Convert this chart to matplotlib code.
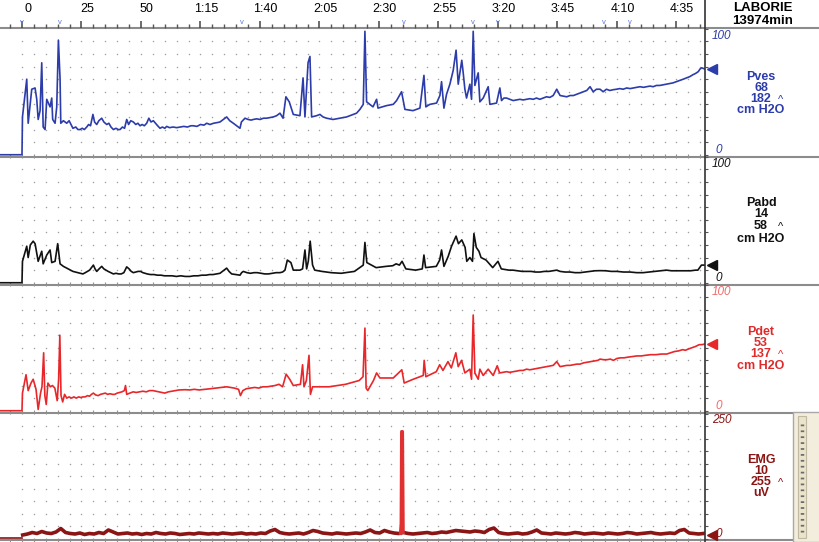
import numpy as np
import matplotlib
matplotlib.use("Agg")
import matplotlib.pyplot as plt
from matplotlib.lines import Line2D
from matplotlib.patches import Rectangle
from matplotlib.ticker import MultipleLocator
import matplotlib.transforms as mtransforms

plt.rcParams['font.family'] = ['Liberation Sans', 'DejaVu Sans']

# ---- data (time in s, values in cm H2O / uV) ----
tick_pos = [0, 25, 50, 75, 100, 125, 150, 175, 200, 225, 250, 275]
tick_labels = ["0", "25", "50", "1:15", "1:40", "2:05", "2:30", "2:55", "3:20", "3:45", "4:10", "4:35"]
event_t = [0, 16, 92.4, 160.5, 189.5, 200, 244.5, 255.5]

pves_t = [-9.5, 0, 0.2, 2.0, 2.6, 4.1, 5.5, 6.2, 6.8, 7.6, 8.3, 8.9, 9.7, 10.4, 11.8, 12.5, 12.9,
          13.9, 14.6, 15.3, 16.0, 16.3,
          17.4, 18.8, 19.8, 20.6, 21.4, 22.6, 23.5, 24.4, 25.3, 26.2, 27.2, 28.0, 28.8, 29.8, 30.5,
          31.4, 32.3, 33.5, 34.4, 35.6, 36.5, 37.4, 38.4, 39.5, 40.4, 41.2, 42.2, 43.1, 44.0, 44.8,
          45.7, 46.8, 47.8, 48.7, 49.6, 50.5, 51.4, 52.4, 53.3, 54.2, 55.2, 56.1, 57.0, 58.0, 59.0,
          60.0, 60.8, 62.0, 63.5, 65.0, 66.4, 68.0, 69.5, 71.0, 72.0, 73.5, 75.0, 76.5, 77.6, 79.0,
          80.5, 82.0, 83.2, 84.6, 86.0, 87.3, 88.8, 90.2, 91.6, 92.2, 93.7, 95.0, 96.3, 97.2, 98.6,
          100.0, 101.5, 102.8, 104.2, 105.6, 107.0, 108.4,
          109.7, 110.9, 112.3, 114.0, 116.8, 118.1, 118.9, 120.2, 121.0, 121.7, 123.8,
          125.2, 126.5, 128.0, 129.4, 130.7, 132.1, 133.5, 135.0, 136.4, 137.8, 139.2, 140.6, 142.0,
          143.4, 144.1, 144.8, 147.5, 149.0, 149.6, 153.2, 156.0, 157.4, 159.5, 160.9, 164.3, 167.2,
          168.9, 169.7, 171.4, 174.2, 175.6, 176.3, 177.3, 178.4, 179.8, 181.2, 182.4, 183.3, 184.8,
          185.4, 186.1, 186.8, 188.2, 188.9, 189.6, 190.3, 191.7, 192.4, 193.8, 195.9, 196.6, 199.4,
          200.8, 201.5, 202.5, 203.6, 205.0, 206.4, 207.8, 209.2, 210.6, 212.0, 213.4, 214.8, 216.2,
          217.6, 219.0, 220.4, 221.8, 223.2, 224.7, 226.1, 227.5, 228.9, 230.3, 231.7, 233.1, 234.5,
          235.9, 237.3, 238.7, 240.0, 241.4, 242.9, 244.2, 245.6, 247.0, 248.4, 249.8, 251.2, 252.6,
          254.1, 255.5, 256.9, 258.3, 259.7, 261.1, 262.5, 263.9, 265.2, 266.6, 268.0, 269.4, 270.9,
          272.2, 273.5, 275.0, 276.5, 277.9, 279.3, 280.6, 281.9, 283.0, 284.2, 284.9, 285.6, 286.3,
          287.0]
pves_v = [0, 0, 30, 60, 25, 52, 53, 44, 28, 35, 73, 22, 20, 44, 38, 45, 28,
          25, 38, 91, 60, 25,
          27, 25, 27, 24, 21, 22, 20, 20, 21, 20, 22, 24, 23, 32, 26,
          24, 27, 29, 26, 24, 25, 22, 20, 21, 20, 20, 22, 21, 28, 24,
          27, 26, 24, 25, 23, 24, 23, 25, 29, 26, 27, 25, 23, 21, 22,
          21, 22.5, 21.5, 22, 21.5, 22, 22.5, 22, 23, 23, 22.5, 24, 23.5, 25, 24,
          25, 25.5, 26, 28, 30, 27, 25, 23, 21, 26, 29, 28, 27.5, 28, 28.5,
          28, 29, 29, 29.5, 30, 31, 33,
          29, 46, 42, 32, 31, 61, 30, 73, 78, 30, 31,
          32, 30, 29, 28.5, 28, 28.5, 29, 29.5, 30, 31, 32, 33, 36,
          40, 98, 42, 38, 44, 37, 39, 40, 43, 50, 36, 35, 37,
          63, 38, 40, 41, 47, 58, 37, 48, 56, 67, 83, 56, 75,
          65, 52, 45, 56, 44, 98, 55, 65, 42, 45, 54, 40, 41,
          53, 43, 45, 45, 44, 43, 43.5, 44, 43.5, 44, 44.5, 44, 45,
          44, 45, 46, 45.5, 47, 52, 47, 46.5, 46, 47, 47, 48, 49,
          50, 51, 54, 50, 52, 52, 50, 52, 51, 51.6, 52, 52.5, 52,
          53, 52.5, 53, 53.5, 54, 53.5, 54, 54.5, 54, 55, 55, 55.5, 56,
          56.5, 57, 58, 59, 60, 61, 62, 63.5, 64.5, 66, 68, 69, 68.5,
          68]

pabd_t = [-9.5, 0, 0.2, 2.0, 2.6, 3.5, 4.7, 5.5, 6.8, 8.3, 8.9, 10.4, 11.8, 12.5, 13.9, 15.0, 16.0,
          17.4, 18.4, 19.4, 20.4, 21.4, 22.4, 23.5, 24.5, 25.6, 26.6, 27.5, 28.4, 29.2, 30.0, 30.7,
          31.4, 32.4, 33.5, 34.4, 35.3, 36.2, 37.3, 38.4, 39.5, 40.6, 41.7, 42.8, 44.0, 45.0, 45.9,
          46.8, 47.8, 48.8, 49.8, 50.8, 51.7, 52.6, 54.0, 55.5, 56.9, 58.4, 59.9, 61.5, 63.0, 64.9,
          66.7, 68.6, 70.5, 72.2, 73.9, 75.6, 77.3, 78.8, 80.3, 81.8, 83.2, 84.6, 86.0, 87.0, 88.1,
          89.8, 91.6, 92.3, 93.0, 94.5, 96.0, 97.5, 98.9, 100.5, 102.0, 103.6, 105.2, 106.8, 108.4,
          109.5, 110.5, 111.5, 113.0, 114.0, 116.8, 117.9, 118.9, 119.6, 120.3, 121.1, 122.1, 123.0,
          126.0, 129.9, 134.1, 139.7, 143.4, 144.1, 144.9, 148.8, 153.0, 155.8, 157.2, 158.6, 159.7,
          161.3, 165.4, 168.2, 168.9, 169.6, 174.1, 175.5, 176.3, 177.3, 179.1, 180.5, 182.4, 183.4,
          184.8, 186.2, 186.9, 188.2, 189.3, 189.9, 190.9, 192.0, 192.9, 195.0, 197.8, 200.0,
          201.4, 203.0, 204.6, 206.3, 208.2, 210.1, 212.0, 213.9, 215.7, 217.6, 219.5, 221.4, 223.2,
          224.7, 226.1, 228.2, 230.3, 232.4, 234.5, 236.6, 238.7, 240.8, 243.0, 245.3, 247.6, 250.0,
          252.8, 255.5, 258.3, 261.0, 263.5, 266.0, 268.4, 270.8, 272.9, 275.0, 277.0, 279.0, 281.0,
          283.0, 284.0, 285.5, 287.0]
pabd_v = [0, 0, 17, 29, 20, 30, 33, 31, 17, 25, 15, 22, 26, 16, 17, 31, 15,
          13, 12, 11, 10, 9, 8.5, 8, 7.5, 7, 8, 9, 10, 12, 14, 11,
          9, 11, 13, 11, 10, 9, 8, 7, 7.5, 7, 7, 8, 12.6, 11, 9,
          8, 8.5, 9, 9, 8, 7.5, 7, 6.5, 6.5, 6, 6, 5.5, 5.5, 5.5, 5,
          5.5, 5, 5, 5.5, 5.5, 6, 6, 6.5, 6.5, 7, 7.5, 9.5, 11.6, 9, 7,
          6.5, 6, 8, 9, 8, 7.5, 8, 8, 7.5, 7, 7, 7.5, 8, 8,
          8.5, 10, 18, 16, 10, 10, 11, 26, 11, 17, 33, 14, 10,
          9, 8, 7.5, 9, 14, 32, 16, 12, 13, 13.5, 15, 14, 17,
          11, 10, 11, 22, 12, 13, 18, 26, 13, 21, 29, 37, 31,
          34, 28, 17, 20, 17, 39, 28, 25, 20, 18, 12, 17,
          11, 10.5, 10, 10, 9.5, 9, 9, 9, 8.5, 8.5, 9, 9, 9.5,
          10, 9, 8.5, 8.5, 8, 8, 8.5, 9, 9.5, 9.6, 9.5, 9, 9,
          8.5, 8.5, 8, 8, 8.5, 9, 9.5, 10, 9.5, 9.5, 9.5, 9.5, 9.5,
          10, 10, 14, 14]

pdet_t = [-9.5, 0, 0.2, 1.7, 2.6, 3.8, 4.7, 5.9, 6.8, 7.8, 8.4, 9.1, 9.6, 10.2, 10.9, 11.9, 12.8,
          13.8, 14.8, 15.4, 15.9, 16.4,
          17.1, 17.9, 18.8, 19.8, 20.8, 21.8, 22.8, 23.8, 24.7, 25.6, 26.6, 27.5, 28.4, 29.2, 30.0,
          31.0, 32.0, 33.0, 34.0, 35.0, 36.0, 37.0, 38.0, 39.0, 40.0, 41.0, 42.0, 43.0, 43.5, 44.0,
          45.3, 46.7, 48.0, 49.4, 50.8, 52.2, 53.6, 55.0, 56.2, 57.5, 58.8, 60.0, 61.5, 63.0, 64.5,
          66.0, 68.6, 70.5, 72.4, 74.5, 77.0, 79.3, 81.5, 83.8, 86.0, 87.5, 89.2, 91.0, 91.8, 92.8,
          94.3, 96.0, 97.8, 99.5, 101.2, 103.0, 104.7, 106.3, 108.0, 109.5,
          111.0, 112.5, 114.0, 117.0, 117.9, 118.5, 119.5, 120.6, 121.2, 122.1, 125.0, 129.0, 136.0,
          141.7, 143.3, 144.1, 144.6, 145.3, 147.7, 149.0, 150.4, 156.0, 159.6, 160.6, 164.4, 168.6,
          169.0, 169.7, 174.1, 175.5, 176.9, 179.0, 180.4, 182.3, 183.3, 184.7, 186.1, 188.2, 188.9,
          189.6, 190.3, 191.7, 192.4, 193.8, 195.9, 198.0, 199.7,
          200.7, 202.2, 203.6, 205.0, 206.5, 207.9, 209.2, 210.6, 212.0, 213.4, 214.8, 216.2, 217.6,
          219.0, 220.4, 221.8, 223.2, 224.7, 226.1, 227.5, 228.9, 230.3, 231.7, 233.1, 234.5, 236.0,
          237.5, 239.0, 240.5, 242.0, 242.9, 244.4, 245.8, 247.2, 248.5, 250.0, 251.5, 253.0, 254.5,
          256.6, 258.4, 260.2, 262.0, 264.2, 266.4, 268.6, 270.9, 272.6, 274.2, 275.9, 277.6, 278.8,
          280.0, 281.5, 283.0, 284.5, 285.8, 287.0]
pdet_v = [0, 0, 14, 28.6, 16, 22, 25, 17, 1, 14, 19, 46, 12, 5, 22, 19, 20,
          18, 8, 25, 60, 12,
          7, 13, 10, 11, 10, 11, 10, 11, 10.5, 11, 11, 12, 11.5, 13, 14,
          12.5, 12, 13, 13.5, 14, 13, 13.5, 13, 13, 14, 14.5, 15, 16, 20, 13,
          14, 15, 14.5, 15, 15.5, 15, 16, 16, 15.5, 15, 14.5, 14, 15, 15.5, 16,
          16.5, 16.7, 16.5, 17, 16.5, 17, 17.5, 18, 18.5, 19, 18.5, 18, 17, 12, 16,
          17.5, 18, 18.5, 18, 19, 19, 19.5, 20, 21, 19,
          29, 25, 20, 21, 36.5, 19, 24, 44, 13, 19, 19, 19, 21,
          24, 27, 65.6, 18, 16, 24, 30, 26, 26, 32.5, 22, 25, 28,
          40, 27, 31, 36.5, 32, 39, 34, 46, 35, 40, 30, 33, 25,
          76, 30, 25, 33, 28, 33, 28, 35.7,
          30, 30.5, 31, 30.5, 31, 31.5, 32, 32, 33, 32.5, 33, 33.5, 34,
          34.5, 35, 35.5, 36, 39, 35, 35.5, 36, 36, 36.5, 37, 37, 38,
          38.5, 39, 39.5, 40, 41, 40.5, 40.5, 41, 40, 41.5, 42, 42, 42.5,
          43, 43.5, 43.5, 44, 44.5, 44.5, 45, 45, 46, 47, 47.5, 48.5, 48,
          49, 50, 51, 52.4, 52.5, 53]

emg_pre_t = [-9.5, -0.1]
emg_pre_v = [1, 1]
emg_step = 2  # EMG read every 2 s
emg_v = [7, 9, 12, 10, 14, 11, 10, 13, 20, 12,
         10, 9, 11, 8, 10, 9, 12, 10, 17, 13,
         9, 10, 11, 9, 10, 8, 10, 9, 12, 10,
         9, 11, 10, 8, 9, 10, 9, 11, 10, 9,
         10, 9, 11, 10, 9, 10, 11, 9, 10, 9,
         11, 10, 15, 18, 12, 10, 9, 10, 11, 9,
         12, 16, 14, 11, 10, 9, 11, 10, 9, 10,
         11, 10, 13, 17, 12, 11, 16, 13, 11, 10,
         12, 10, 9, 10, 11, 12, 10, 11, 13, 12,
         14, 16, 15, 14, 13, 15, 14, 12, 18, 21,
         12, 10, 9, 10, 11, 9, 10, 13, 17, 11,
         10, 9, 11, 10, 9, 10, 12, 11, 9, 10,
         11, 10, 9, 11, 10, 9, 10, 12, 11, 9,
         10, 11, 12, 10, 9, 10, 11, 10, 16, 18,
         11, 10, 9, 10]
emg_spike_t = [159.0, 159.3, 159.5, 159.9, 160.2]
emg_spike_v = [10, 30, 214, 214, 12]

W, H = 820, 542


def fx(x):
    return x / W


def fy(y):
    return 1 - y / H


fig = plt.figure(figsize=(8.2, 5.42), dpi=100)
fig.patch.set_facecolor("white")

panels = [
    dict(t=pves_t, v=pves_v, color="#2c3caa", lw=1.2, ylim=(-1.0, 100.6), step=10,
         scale=("100", "0"), scol="#2c3caa",
         text=["Pves", "68", "182", "cm H2O"], tcol="#2c3caa", ty=[77, 88, 99, 110]),
    dict(t=pabd_t, v=pabd_v, color="#111111", lw=1.2, ylim=(-1.0, 100.6), step=10,
         scale=("100", "0"), scol="#111111",
         text=["Pabd", "14", "58", "cm H2O"], tcol="#111111", ty=[203, 214, 226, 239]),
    dict(t=pdet_t, v=pdet_v, color="#e8272b", lw=1.2, ylim=(-1.0, 100.6), step=10,
         scale=("100", "0"), scol="#f06a6a",
         text=["Pdet", "53", "137", "cm H2O"], tcol="#e02a2a", ty=[332, 343, 354, 366]),
    dict(t=None, v=None, color="#8b1414", lw=2.6, ylim=(-3.0, 253), step=25,
         scale=("250", "0"), scol="#8b1414",
         text=["EMG", "10", "255", "uV"], tcol="#8b1414", ty=[460, 471, 482, 493]),
]

x_lo, x_hi = -9.24, 287.0
axes = []
for i, p in enumerate(panels):
    top = 28 + 128 * i
    ax = fig.add_axes([0, fy(top + 128), fx(705), 128 / H])
    ax.set_xlim(x_lo, x_hi)
    ax.set_ylim(*p["ylim"])
    ax.set_facecolor("none")
    for s in ax.spines.values():
        s.set_visible(False)

    # dotted grid
    gx, gy = np.meshgrid(np.arange(0, 286, 5), np.arange(p["step"], p["step"] * 10, p["step"]))
    ax.scatter(gx.ravel(), gy.ravel(), s=1.2, color="#a0a0a0", lw=0, zorder=1)

    # ticks on the separator lines
    ax.xaxis.set_major_locator(MultipleLocator(5))
    ax.tick_params(axis="x", which="both", bottom=True, top=False, labelbottom=False,
                   direction="inout", length=3.5, width=0.8, color="#909090")

    # right-edge scale ticks
    ax.yaxis.tick_right()
    ax.yaxis.set_major_locator(MultipleLocator(p["step"]))
    ax.tick_params(axis="y", which="both", direction="out", length=2.5, width=0.8,
                   color="#555555", labelright=False, left=False)

    if p["t"] is not None:
        ax.plot(p["t"], p["v"], color=p["color"], lw=p["lw"], zorder=3)
        end_v = p["v"][-1]
    else:
        emg_t = np.arange(len(emg_v)) * emg_step + 0.3
        ax.plot(emg_pre_t, emg_pre_v, color=p["color"], lw=1.2, zorder=3)
        ax.plot(emg_t, emg_v, color=p["color"], lw=p["lw"], zorder=3)
        ax.plot(emg_spike_t, emg_spike_v, color="#e03030", lw=2.2, zorder=4)
        end_v = 8
    ax.plot([289.8], [end_v], marker="<", ms=6.5, color=p["color"], clip_on=False, zorder=5)

    # scale labels and channel readout
    fig.text(fx(712), fy(top + 8), p["scale"][0], color=p["scol"], fontsize=8.5,
             style="italic", va="center", ha="left")
    fig.text(fx(715), fy(top + 122), p["scale"][1], color=p["scol"], fontsize=8.5,
             style="italic", va="center", ha="left")
    for txt, yy in zip(p["text"], p["ty"]):
        fig.text(fx(761), fy(yy), txt, color=p["tcol"], fontsize=9, fontweight="bold",
                 ha="center", va="center")
    fig.text(fx(781), fy(p["ty"][2] + 1), "^", color=p["tcol"], fontsize=8,
             ha="center", va="center")
    axes.append(ax)

# top time axis
ax0 = axes[0]
sec = ax0.secondary_xaxis("top")
sec.set_xticks(tick_pos)
sec.set_xticklabels(tick_labels)
sec.xaxis.set_minor_locator(MultipleLocator(5))
sec.tick_params(which="major", direction="out", length=5, width=1.1, color="#444444",
                labelsize=9, pad=4)
sec.tick_params(which="minor", direction="out", length=3, width=1.0, color="#555555")
sec.spines["top"].set_visible(False)
offset = mtransforms.ScaledTranslation(4 / 72, 0, fig.dpi_scale_trans)
for lab in sec.get_xticklabels():
    lab.set_transform(lab.get_transform() + offset)

# event markers on the time axis
for t in event_t:
    ax0.text(t, 1.045, "v", transform=ax0.get_xaxis_transform(), color="#5a78d8",
             fontsize=5.5, ha="center", va="center", clip_on=False)

# separator lines and frame
line_kw = dict(transform=fig.transFigure, color="#8c8c8c", lw=1.5, zorder=0)
for y, x1 in [(28, 820), (156.5, 820), (284.5, 820), (412.5, 793), (540, 793)]:
    fig.add_artist(Line2D([0, fx(x1)], [fy(y), fy(y)], **line_kw))
fig.add_artist(Line2D([fx(705), fx(705)], [0, 1], transform=fig.transFigure,
                      color="#333333", lw=1.2))

# header
fig.text(fx(763), fy(8), "LABORIE", fontsize=9.5, fontweight="bold", ha="center", va="center")
fig.text(fx(763), fy(21.5), "13974min", fontsize=9.5, fontweight="bold", ha="center", va="center")

# slider widget at the bottom right
fig.add_artist(Rectangle((fx(793), fy(542)), fx(27), 130 / H, transform=fig.transFigure,
                         fc="#f2eddc", ec="#a8a8a8", lw=1))
fig.add_artist(Rectangle((fx(798), fy(538)), fx(8), 122 / H, transform=fig.transFigure,
                         fc="#ebe4cc", ec="#c0b8a0", lw=0.8))
fig.add_artist(Line2D([fx(802), fx(802)], [fy(532), fy(420)], transform=fig.transFigure,
                      color="#6a6a6a", lw=2.5, linestyle=(0, (0.5, 1.2))))

fig.savefig("out.png", dpi=100)
